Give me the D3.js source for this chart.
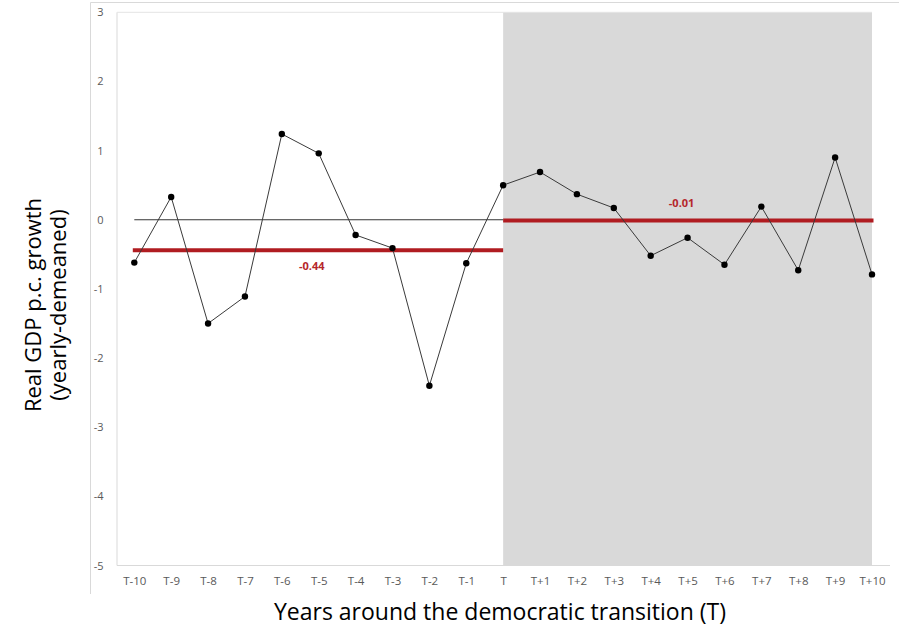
<!DOCTYPE html>
<html><head><meta charset="utf-8">
<script src="https://cdn.jsdelivr.net/npm/d3@7"></script>
<style>body{margin:0;background:#fff;} svg{display:block;}</style>
</head><body>
<svg id="chart" width="899" height="632"></svg>
<script>
const categories = ["T-10","T-9","T-8","T-7","T-6","T-5","T-4","T-3","T-2","T-1","T","T+1","T+2","T+3","T+4","T+5","T+6","T+7","T+8","T+9","T+10"];
const growth = [-0.62,0.33,-1.50,-1.11,1.24,0.96,-0.22,-0.41,-2.40,-0.63,0.50,0.69,0.37,0.17,-0.52,-0.26,-0.65,0.19,-0.73,0.90,-0.79];
const preMean = -0.44;
const postMean = -0.01;
const yTicks = [3,2,1,0,-1,-2,-3,-4,-5];
const yTitleLines = ["Real GDP p.c. growth","(yearly-demeaned)"];
const xTitle = "Years around the democratic transition (T)";

const svg = d3.select("#chart");
const FONT = "'Open Sans', sans-serif";
const x = d3.scalePoint().domain(categories).range([134.3, 872]);
const y = d3.scaleLinear().domain([-5, 3]).range([565.5, 12.3]);
const plotLeft = 117, plotTop = 12.3, plotBottom = 565.5;
const fmt = d => d3.format(".2f")(d).replace("\u2212","-");

// outer frame
svg.append("line").attr("x1",90.5).attr("x2",899).attr("y1",2.5).attr("y2",2.5).attr("stroke","#d9d9d9");
svg.append("line").attr("x1",90.5).attr("x2",90.5).attr("y1",2.5).attr("y2",594).attr("stroke","#d9d9d9");

// shaded post-transition area
svg.append("rect").attr("x",x("T")).attr("y",plotTop)
  .attr("width",x("T+10")-x("T")).attr("height",plotBottom-plotTop).attr("fill","#d9d9d9");

// plot box lines
svg.append("line").attr("x1",plotLeft).attr("x2",plotLeft).attr("y1",plotTop).attr("y2",plotBottom).attr("stroke","#d9d9d9");
svg.append("line").attr("x1",plotLeft).attr("x2",890).attr("y1",plotBottom).attr("y2",plotBottom).attr("stroke","#d9d9d9");
svg.append("line").attr("x1",plotLeft).attr("x2",x("T+10")).attr("y1",plotTop).attr("y2",plotTop).attr("stroke","#e4e4e4");

// y axis labels
const yAxis = d3.axisLeft(y).tickValues(yTicks).tickSize(0).tickPadding(0).tickFormat(d => String(d));
const ya = svg.append("g").attr("transform","translate(103.5,0)").call(yAxis);
ya.select(".domain").remove();
ya.selectAll("text").attr("font-family",FONT).attr("font-size",11).attr("fill","#595959");

// x axis labels
const xAxis = d3.axisBottom(x).tickSize(0).tickPadding(0);
const xa = svg.append("g").attr("transform","translate(0,577)").call(xAxis);
xa.select(".domain").remove();
xa.selectAll("text").attr("font-family",FONT).attr("font-size",11.5).attr("fill","#595959");

// zero line
svg.append("line").attr("x1",x("T-10")).attr("x2",x("T")).attr("y1",y(0)).attr("y2",y(0))
  .attr("stroke","#000").attr("stroke-width",0.8);

// mean lines
const red = "#b01c21";
svg.append("line").attr("x1",x("T-10")-1.5).attr("x2",x("T")).attr("y1",y(preMean)).attr("y2",y(preMean))
  .attr("stroke",red).attr("stroke-width",4);
svg.append("line").attr("x1",x("T")).attr("x2",x("T+10")+1.5).attr("y1",y(postMean)).attr("y2",y(postMean))
  .attr("stroke",red).attr("stroke-width",4);

// data line
const line = d3.line().x((d,i)=>x(categories[i])).y(d=>y(d));
svg.append("path").datum(growth).attr("d",line).attr("fill","none").attr("stroke","#3a3a3a").attr("stroke-width",1);
svg.selectAll("circle.pt").data(growth).join("circle").attr("class","pt")
  .attr("cx",(d,i)=>x(categories[i])).attr("cy",d=>y(d)).attr("r",3.2).attr("fill","#000");

// mean labels
svg.append("text").attr("x",(x("T-10")+x("T"))/2 - 7).attr("y",y(preMean)+20)
  .attr("text-anchor","middle").attr("font-family",FONT).attr("font-weight","bold").attr("font-size",11)
  .attr("fill","#b5262b").text(fmt(preMean));
svg.append("text").attr("x",(x("T")+x("T+10"))/2-6).attr("y",y(postMean)-13)
  .attr("text-anchor","middle").attr("font-family",FONT).attr("font-weight","bold").attr("font-size",11)
  .attr("fill","#b5262b").text(fmt(postMean));

// x title
svg.append("text").attr("x",500).attr("y",620).attr("text-anchor","middle")
  .attr("font-family",FONT).attr("font-size",23).attr("fill","#000").text(xTitle);

// y title
const yt = svg.append("text").attr("transform","translate(0,305) rotate(-90)")
  .attr("text-anchor","middle").attr("font-family",FONT).attr("font-size",22).attr("fill","#000");
yTitleLines.forEach((t,i)=>{
  yt.append("tspan").attr("x",0).attr("y", i===0 ? 41 : 66).text(t);
});
</script>
</body></html>
